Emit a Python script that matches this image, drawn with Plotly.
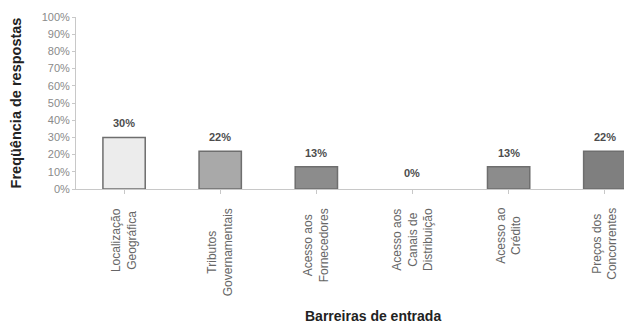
import plotly.graph_objects as go

categories = [
    "Localização<br>Geográfica",
    "Tributos<br>Governamentais",
    "Acesso aos<br>Fornecedores",
    "Acesso aos<br>Canais de<br>Distribuição",
    "Acesso ao<br>Crédito",
    "Preços dos<br>Concorrentes",
]
values = [0.30, 0.22, 0.13, 0.00, 0.13, 0.22]
bar_colors = ["#ececec", "#a9a9a9", "#8c8c8c", "#8c8c8c", "#8c8c8c", "#7f7f7f"]
y_ticks = [i / 10 for i in range(11)]
y_tick_text = [f"{i * 10}%" for i in range(11)]

FONT = "Liberation Sans, Arial, sans-serif"
x_idx = list(range(len(categories)))

fig = go.Figure()
fig.add_trace(go.Bar(
    x=x_idx,
    y=values,
    width=0.44,
    marker=dict(color=bar_colors,
                line=dict(color="#6e6e6e",
                          width=[1.5 if v > 0 else 0 for v in values])),
    hoverinfo="skip",
))

# value labels above each bar
for xi, v in zip(x_idx, values):
    fig.add_annotation(
        x=xi, y=v, text=f"<b>{round(v * 100)}%</b>",
        showarrow=False, yanchor="middle", yshift=14 if v > 0 else 16,
        font=dict(family=FONT, size=11, color="#4d4d4d"),
    )

# rotated, centre-aligned category labels under the axis
for xi, name in zip(x_idx, categories):
    fig.add_annotation(
        x=xi, xref="x", y=0, yref="paper", yshift=-17,
        text=name, textangle=-90, align="center",
        showarrow=False, xanchor="center", yanchor="top",
        font=dict(family=FONT, size=12, color="#666666"),
    )

fig.add_annotation(
    x=0.542, xref="paper", y=-0.74, yref="paper",
    text="<b>Barreiras de entrada</b>", showarrow=False,
    xanchor="center", yanchor="middle",
    font=dict(family=FONT, size=14, color="#222222"),
)

fig.update_layout(
    width=624, height=329,
    margin=dict(l=76, r=0, t=17, b=140),
    paper_bgcolor="white", plot_bgcolor="white",
    showlegend=False,
    font=dict(family=FONT, color="#777777"),
)
fig.update_xaxes(
    range=[-0.5, 5.2],
    tickmode="array", tickvals=x_idx, ticktext=[""] * len(x_idx),
    showline=True, linecolor="#c8c8c8", linewidth=1,
    ticks="outside", ticklen=4, tickcolor="#c8c8c8", tickson="boundaries",
    showgrid=False, zeroline=False,
)
fig.update_yaxes(
    range=[0, 1],
    tickmode="array", tickvals=y_ticks, ticktext=y_tick_text,
    tickfont=dict(family=FONT, size=11, color="#8a8a8a"),
    showline=True, linecolor="#c8c8c8", linewidth=1,
    ticks="outside", ticklen=3, tickcolor="#c8c8c8",
    showgrid=False, zeroline=False,
    title=dict(text="<b>Freqüência de respostas</b>", standoff=16,
               font=dict(family=FONT, size=14.5, color="#222222")),
)

fig.write_html("out.html")
